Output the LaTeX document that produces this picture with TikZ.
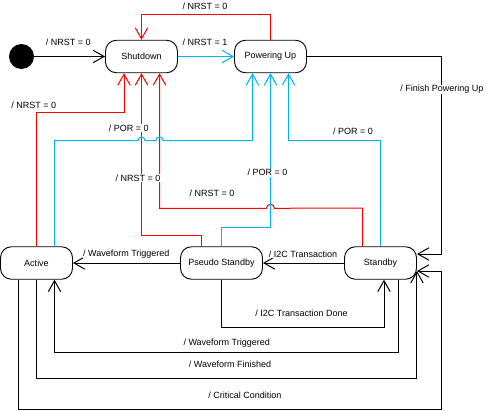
\documentclass[tikz,border=0pt]{standalone}
\usepackage{fontspec}
\setmainfont{Liberation Sans}
\usetikzlibrary{arrows.meta,calc}
\definecolor{porblue}{RGB}{0,178,240}
\definecolor{nrstred}{RGB}{255,0,0}
\tikzset{
  state/.style={draw, line width=0.9pt, rounded corners=11pt, minimum width=72pt, minimum height=32.5pt, inner sep=0pt, font=\fontsize{9}{10}\selectfont},
  trans/.style={-{Straight Barb[length=11pt,width=12.5pt]}, line width=1pt},
  nrst/.style={trans, draw=nrstred},
  por/.style={trans, draw=porblue},
  lbl/.style={fill=white, text=black, inner sep=0.6pt, font=\fontsize{9}{10}\selectfont},
}
\begin{document}
\begin{tikzpicture}[x=1pt,y=-1pt]
\useasboundingbox (0,0) rectangle (487,410);
% states
\node[circle, fill=black, minimum size=25pt, inner sep=0pt] (init) at (21.5,56.5) {};
\node[state] (shut) at (141.5,56.5) {Shutdown};
\node[state] (pup) at (270.5,56.5) {Powering Up};
\node[state] (act) at (36.5,263) {Active};
\node[state, minimum width=82pt] (pstby) at (221.5,263) {Pseudo Standby};
\node[state] (stby) at (380.5,263) {Standby};
% top row
\draw[trans] (init) -- (shut) node[lbl] (l1) at (68.3,42.7) {/ NRST = 0};
\draw[por] (shut) -- (pup) node[lbl] (l2) at (205,42.7) {/ NRST = 1};
\draw[nrst] (pup.north) -- ++(0,-25) -| (shut.north) node[lbl] (l3) at (205,6.3) {/ NRST = 0};
\draw[trans] (pup.east) -| (441,254) -- ($(stby.east)+(0,-9)$) node[lbl] (l4) at (441.8,89.3) {/ Finish Powering Up};
% back to shutdown
\draw[nrst] (act.north) -- ++(0,-134) -| ($(shut.south)+(-17.5,0)$) node[lbl] (l5) at (33.8,105.7) {/ NRST = 0};
\draw[nrst] ($(stby.north)+(-18,0)$) -- ++(0,-38.3) -- (274.5,208.3) arc[start angle=0, end angle=-180, radius=4] -| ($(shut.south)+(18,0)$) node[lbl] (l6) at (212,193.7) {/ NRST = 0};
\draw[nrst] ($(pstby.north)+(-20,0)$) -- ++(0,-10.5) -| (shut.south) node[lbl] (l7) at (138,178.3) {/ NRST = 0};
% back to powering up
\draw[por] ($(act.north)+(18,0)$) |- (138,140.5) arc[start angle=180, end angle=360, radius=3.5] -- (156,140.5) arc[start angle=180, end angle=360, radius=3.5] -| ($(pup.south)+(-18,0)$) node[lbl] (l8) at (128.7,128.3) {/ POR = 0};
\draw[por] (pstby.north) -- ++(0,-19.3) -| (pup.south) node[lbl] (l9) at (267.5,172.7) {/ POR = 0};
\draw[por] (stby.north) -- ++(0,-106) -| ($(pup.south)+(18,0)$) node[lbl] (l10) at (353,131.7) {/ POR = 0};
% bottom row
\draw[trans] (pstby) -- (act) node[lbl] (l11) at (126.3,254) {/ Waveform Triggered};
\draw[trans] (stby) -- (pstby) node[lbl] (l12) at (303,254) {/ I2C Transaction};
\draw[trans] (pstby.south) -- ++(0,47.6) -| ($(stby.south)+(3.5,0)$) node[lbl] (l13) at (301.5,313.7) {/ I2C Transaction Done};
\draw[trans] ($(stby.south)+(18,0)$) -- ++(0,72.6) -| ($(act.south)+(18,0)$) node[lbl] (l14) at (226.7,343) {/ Waveform Triggered};
\draw[trans] (act.south) -- ++(0,98.6) -| ($(stby.east)+(0,8)$) node[lbl] (l15) at (230,364.5) {/ Waveform Finished};
\draw[trans] ($(act.south)+(-18,0)$) -- ++(0,129.6) -| (441,271) -- ($(stby.east)+(0,8)$) node[lbl] (l16) at (245,395.5) {/ Critical Condition};
\end{tikzpicture}
\end{document}
